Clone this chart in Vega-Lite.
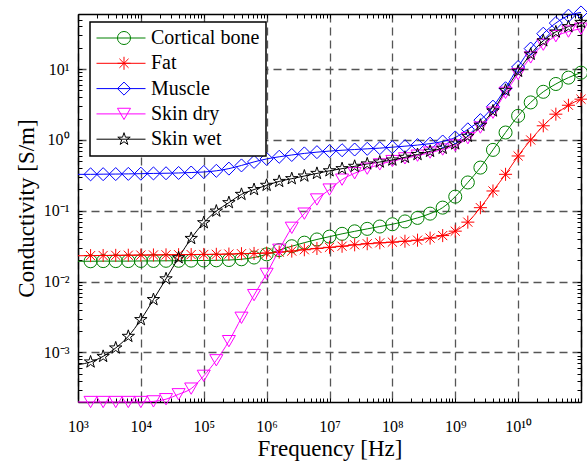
{
"$schema": "https://vega.github.io/schema/vega-lite/v6.json",
"width": 503, "height": 388,
"autosize": "none",
"padding": {"left": 78, "top": 14, "right": 6, "bottom": 59},
"background": "white",
"config": {"view": {"stroke": null}, "font": "Liberation Serif", "legend": {"labelFont": "Liberation Serif"}},
"data": {"values": [
{"t":"Cortical bone","f":1e3,"s":0.0194},{"t":"Cortical bone","f":1.585e3,"s":0.0194},{"t":"Cortical bone","f":2.512e3,"s":0.0195},{"t":"Cortical bone","f":3.981e3,"s":0.0195},{"t":"Cortical bone","f":6.31e3,"s":0.0195},
{"t":"Cortical bone","f":1e4,"s":0.0196},{"t":"Cortical bone","f":1.585e4,"s":0.0196},{"t":"Cortical bone","f":2.512e4,"s":0.0197},{"t":"Cortical bone","f":3.981e4,"s":0.0197},{"t":"Cortical bone","f":6.31e4,"s":0.0198},
{"t":"Cortical bone","f":1e5,"s":0.0199},{"t":"Cortical bone","f":1.585e5,"s":0.0200},{"t":"Cortical bone","f":2.512e5,"s":0.0202},{"t":"Cortical bone","f":3.981e5,"s":0.0207},{"t":"Cortical bone","f":6.31e5,"s":0.0219},
{"t":"Cortical bone","f":1e6,"s":0.0243},{"t":"Cortical bone","f":1.585e6,"s":0.0279},{"t":"Cortical bone","f":2.512e6,"s":0.0316},{"t":"Cortical bone","f":3.981e6,"s":0.0355},{"t":"Cortical bone","f":6.31e6,"s":0.0394},
{"t":"Cortical bone","f":1e7,"s":0.0432},{"t":"Cortical bone","f":1.585e7,"s":0.0473},{"t":"Cortical bone","f":2.512e7,"s":0.0513},{"t":"Cortical bone","f":3.981e7,"s":0.0556},{"t":"Cortical bone","f":6.31e7,"s":0.0600},
{"t":"Cortical bone","f":1e8,"s":0.0646},{"t":"Cortical bone","f":1.585e8,"s":0.0708},{"t":"Cortical bone","f":2.512e8,"s":0.0794},{"t":"Cortical bone","f":3.981e8,"s":0.0912},{"t":"Cortical bone","f":6.31e8,"s":0.1109},
{"t":"Cortical bone","f":1e9,"s":0.1585},{"t":"Cortical bone","f":1.585e9,"s":0.2512},{"t":"Cortical bone","f":2.512e9,"s":0.4074},{"t":"Cortical bone","f":3.981e9,"s":0.7244},{"t":"Cortical bone","f":6.31e9,"s":1.274},
{"t":"Cortical bone","f":1e10,"s":2.188},{"t":"Cortical bone","f":1.585e10,"s":3.388},{"t":"Cortical bone","f":2.512e10,"s":4.786},{"t":"Cortical bone","f":3.981e10,"s":6.166},{"t":"Cortical bone","f":6.31e10,"s":7.586},{"t":"Cortical bone","f":1e11,"s":8.913},
{"t":"Fat","f":1e3,"s":0.0232},{"t":"Fat","f":1.585e3,"s":0.0233},{"t":"Fat","f":2.512e3,"s":0.0234},{"t":"Fat","f":3.981e3,"s":0.0235},{"t":"Fat","f":6.31e3,"s":0.0236},
{"t":"Fat","f":1e4,"s":0.0237},{"t":"Fat","f":1.585e4,"s":0.0238},{"t":"Fat","f":2.512e4,"s":0.0239},{"t":"Fat","f":3.981e4,"s":0.0240},{"t":"Fat","f":6.31e4,"s":0.0241},
{"t":"Fat","f":1e5,"s":0.0242},{"t":"Fat","f":1.585e5,"s":0.0243},{"t":"Fat","f":2.512e5,"s":0.0245},{"t":"Fat","f":3.981e5,"s":0.0248},{"t":"Fat","f":6.31e5,"s":0.0250},
{"t":"Fat","f":1e6,"s":0.0253},{"t":"Fat","f":1.585e6,"s":0.0261},{"t":"Fat","f":2.512e6,"s":0.0270},{"t":"Fat","f":3.981e6,"s":0.0282},{"t":"Fat","f":6.31e6,"s":0.0294},
{"t":"Fat","f":1e7,"s":0.0305},{"t":"Fat","f":1.585e7,"s":0.0316},{"t":"Fat","f":2.512e7,"s":0.0331},{"t":"Fat","f":3.981e7,"s":0.0343},{"t":"Fat","f":6.31e7,"s":0.0353},
{"t":"Fat","f":1e8,"s":0.0361},{"t":"Fat","f":1.585e8,"s":0.0372},{"t":"Fat","f":2.512e8,"s":0.0385},{"t":"Fat","f":3.981e8,"s":0.0412},{"t":"Fat","f":6.31e8,"s":0.0447},
{"t":"Fat","f":1e9,"s":0.0516},{"t":"Fat","f":1.585e9,"s":0.0692},{"t":"Fat","f":2.512e9,"s":0.1107},{"t":"Fat","f":3.981e9,"s":0.1905},{"t":"Fat","f":6.31e9,"s":0.3273},
{"t":"Fat","f":1e10,"s":0.5943},{"t":"Fat","f":1.585e10,"s":1.0},{"t":"Fat","f":2.512e10,"s":1.585},{"t":"Fat","f":3.981e10,"s":2.312},{"t":"Fat","f":6.31e10,"s":3.09},{"t":"Fat","f":1e11,"s":3.767},
{"t":"Muscle","f":1e3,"s":0.327},{"t":"Muscle","f":1.585e3,"s":0.327},{"t":"Muscle","f":2.512e3,"s":0.329},{"t":"Muscle","f":3.981e3,"s":0.330},{"t":"Muscle","f":6.31e3,"s":0.332},
{"t":"Muscle","f":1e4,"s":0.334},{"t":"Muscle","f":1.585e4,"s":0.337},{"t":"Muscle","f":2.512e4,"s":0.339},{"t":"Muscle","f":3.981e4,"s":0.342},{"t":"Muscle","f":6.31e4,"s":0.347},
{"t":"Muscle","f":1e5,"s":0.353},{"t":"Muscle","f":1.585e5,"s":0.367},{"t":"Muscle","f":2.512e5,"s":0.394},{"t":"Muscle","f":3.981e5,"s":0.437},{"t":"Muscle","f":6.31e5,"s":0.490},
{"t":"Muscle","f":1e6,"s":0.540},{"t":"Muscle","f":1.585e6,"s":0.579},{"t":"Muscle","f":2.512e6,"s":0.614},{"t":"Muscle","f":3.981e6,"s":0.646},{"t":"Muscle","f":6.31e6,"s":0.673},
{"t":"Muscle","f":1e7,"s":0.697},{"t":"Muscle","f":1.585e7,"s":0.716},{"t":"Muscle","f":2.512e7,"s":0.733},{"t":"Muscle","f":3.981e7,"s":0.750},{"t":"Muscle","f":6.31e7,"s":0.767},
{"t":"Muscle","f":1e8,"s":0.791},{"t":"Muscle","f":1.585e8,"s":0.817},{"t":"Muscle","f":2.512e8,"s":0.847},{"t":"Muscle","f":3.981e8,"s":0.887},{"t":"Muscle","f":6.31e8,"s":0.951},
{"t":"Muscle","f":1e9,"s":1.084},{"t":"Muscle","f":1.585e9,"s":1.413},{"t":"Muscle","f":2.512e9,"s":1.905},{"t":"Muscle","f":3.981e9,"s":2.951},{"t":"Muscle","f":6.31e9,"s":5.370},
{"t":"Muscle","f":1e10,"s":10.72},{"t":"Muscle","f":1.585e10,"s":19.50},{"t":"Muscle","f":2.512e10,"s":31.62},{"t":"Muscle","f":3.981e10,"s":44.67},{"t":"Muscle","f":6.31e10,"s":56.89},{"t":"Muscle","f":1e11,"s":63.10},
{"t":"Skin dry","f":1e3,"s":0.0002},{"t":"Skin dry","f":1.585e3,"s":0.0002},{"t":"Skin dry","f":2.512e3,"s":0.0002},{"t":"Skin dry","f":3.981e3,"s":0.0002},{"t":"Skin dry","f":6.31e3,"s":0.0002},
{"t":"Skin dry","f":1e4,"s":0.0002},{"t":"Skin dry","f":1.585e4,"s":0.000204},{"t":"Skin dry","f":2.512e4,"s":0.000219},{"t":"Skin dry","f":3.981e4,"s":0.000257},{"t":"Skin dry","f":6.31e4,"s":0.000309},
{"t":"Skin dry","f":1e5,"s":0.000468},{"t":"Skin dry","f":1.585e5,"s":0.000776},{"t":"Skin dry","f":2.512e5,"s":0.001445},{"t":"Skin dry","f":3.981e5,"s":0.00309},{"t":"Skin dry","f":6.31e5,"s":0.006457},
{"t":"Skin dry","f":1e6,"s":0.01288},{"t":"Skin dry","f":1.585e6,"s":0.02818},{"t":"Skin dry","f":2.512e6,"s":0.05754},{"t":"Skin dry","f":3.981e6,"s":0.0912},{"t":"Skin dry","f":6.31e6,"s":0.1445},
{"t":"Skin dry","f":1e7,"s":0.1995},{"t":"Skin dry","f":1.585e7,"s":0.2754},{"t":"Skin dry","f":2.512e7,"s":0.3388},{"t":"Skin dry","f":3.981e7,"s":0.3936},{"t":"Skin dry","f":6.31e7,"s":0.4519},
{"t":"Skin dry","f":1e8,"s":0.5035},{"t":"Skin dry","f":1.585e8,"s":0.5495},{"t":"Skin dry","f":2.512e8,"s":0.5998},{"t":"Skin dry","f":3.981e8,"s":0.6637},{"t":"Skin dry","f":6.31e8,"s":0.7328},
{"t":"Skin dry","f":1e9,"s":0.8356},{"t":"Skin dry","f":1.585e9,"s":1.059},{"t":"Skin dry","f":2.512e9,"s":1.496},{"t":"Skin dry","f":3.981e9,"s":2.427},{"t":"Skin dry","f":6.31e9,"s":4.624},
{"t":"Skin dry","f":1e10,"s":8.511},{"t":"Skin dry","f":1.585e10,"s":14.62},{"t":"Skin dry","f":2.512e10,"s":22.13},{"t":"Skin dry","f":3.981e10,"s":29.17},{"t":"Skin dry","f":6.31e10,"s":33.88},{"t":"Skin dry","f":1e11,"s":37.15},
{"t":"Skin wet","f":1e3,"s":0.000671},{"t":"Skin wet","f":1.585e3,"s":0.000735},{"t":"Skin wet","f":2.512e3,"s":0.000881},{"t":"Skin wet","f":3.981e3,"s":0.001159},{"t":"Skin wet","f":6.31e3,"s":0.00169},
{"t":"Skin wet","f":1e4,"s":0.002911},{"t":"Skin wet","f":1.585e4,"s":0.005585},{"t":"Skin wet","f":2.512e4,"s":0.01096},{"t":"Skin wet","f":3.981e4,"s":0.02173},{"t":"Skin wet","f":6.31e4,"s":0.04074},
{"t":"Skin wet","f":1e5,"s":0.06792},{"t":"Skin wet","f":1.585e5,"s":0.09908},{"t":"Skin wet","f":2.512e5,"s":0.1303},{"t":"Skin wet","f":3.981e5,"s":0.1706},{"t":"Skin wet","f":6.31e5,"s":0.1995},
{"t":"Skin wet","f":1e6,"s":0.2291},{"t":"Skin wet","f":1.585e6,"s":0.2600},{"t":"Skin wet","f":2.512e6,"s":0.2844},{"t":"Skin wet","f":3.981e6,"s":0.3097},{"t":"Skin wet","f":6.31e6,"s":0.3373},
{"t":"Skin wet","f":1e7,"s":0.3673},{"t":"Skin wet","f":1.585e7,"s":0.3936},{"t":"Skin wet","f":2.512e7,"s":0.4246},{"t":"Skin wet","f":3.981e7,"s":0.4592},{"t":"Skin wet","f":6.31e7,"s":0.4887},
{"t":"Skin wet","f":1e8,"s":0.5212},{"t":"Skin wet","f":1.585e8,"s":0.5689},{"t":"Skin wet","f":2.512e8,"s":0.6237},{"t":"Skin wet","f":3.981e8,"s":0.6918},{"t":"Skin wet","f":6.31e8,"s":0.7638},
{"t":"Skin wet","f":1e9,"s":0.881},{"t":"Skin wet","f":1.585e9,"s":1.127},{"t":"Skin wet","f":2.512e9,"s":1.614},{"t":"Skin wet","f":3.981e9,"s":2.57},{"t":"Skin wet","f":6.31e9,"s":5.012},
{"t":"Skin wet","f":1e10,"s":9.333},{"t":"Skin wet","f":1.585e10,"s":16.22},{"t":"Skin wet","f":2.512e10,"s":25.12},{"t":"Skin wet","f":3.981e10,"s":33.5},{"t":"Skin wet","f":6.31e10,"s":39.81},{"t":"Skin wet","f":1e11,"s":45.71}
]},
"layer": [
{
"mark": {"type": "line", "strokeWidth": 1, "interpolate": "monotone"},
"encoding": {
"x": {"field": "f", "type": "quantitative",
 "scale": {"type": "log", "domain": [1000, 1e11], "nice": false},
 "axis": {"orient": "bottom", "tickCount": 40, "zindex": 0,
  "grid": true, "gridColor": "#555555", "gridDash": [8, 5], "gridWidth": 1.3,
  "gridOpacity": {"condition": {"test": "abs(log(datum.value)/LN10 - round(log(datum.value)/LN10)) < 0.001", "value": 1}, "value": 0},
  "ticks": true, "tickColor": "black", "tickWidth": 1, "tickSize": -4,
  "domain": true, "domainColor": "black", "domainWidth": 1.5,
  "labelExpr": "abs(log(datum.value)/LN10 - round(log(datum.value)/LN10)) < 0.001 && datum.value < 5e10 ? '10' + (datum.value < 0.5 ? '⁻' : '') + (abs(round(log(datum.value)/LN10)) == 10 ? '¹⁰' : substring('⁰¹²³⁴⁵⁶⁷⁸⁹', abs(round(log(datum.value)/LN10)), abs(round(log(datum.value)/LN10)) + 1)) : ''",
  "labelFont": "Liberation Serif", "labelFontSize": 16, "labelColor": "black", "labelPadding": 33, "labelBaseline": "alphabetic",
  "labelFlush": false, "labelOverlap": false, "labelBound": false,
  "title": "Frequency [Hz]", "titleFont": "Liberation Serif", "titleFontSize": 23, "titleFontWeight": "normal", "titleColor": "black",
  "titleX": 251.5, "titleY": 53, "titleBaseline": "alphabetic", "titleAlign": "center"}},
"y": {"field": "s", "type": "quantitative",
 "scale": {"type": "log", "domain": [0.0002, 60], "nice": false},
 "axis": {"orient": "left", "tickCount": 40, "zindex": 0,
  "grid": true, "gridColor": "#555555", "gridDash": [8, 5], "gridWidth": 1.3,
  "gridOpacity": {"condition": {"test": "abs(log(datum.value)/LN10 - round(log(datum.value)/LN10)) < 0.001", "value": 1}, "value": 0},
  "ticks": true, "tickColor": "black", "tickWidth": 1, "tickSize": -4,
  "domain": true, "domainColor": "black", "domainWidth": 1.5,
  "labelExpr": "abs(log(datum.value)/LN10 - round(log(datum.value)/LN10)) < 0.001 && datum.value < 5e10 ? '10' + (datum.value < 0.5 ? '⁻' : '') + (abs(round(log(datum.value)/LN10)) == 10 ? '¹⁰' : substring('⁰¹²³⁴⁵⁶⁷⁸⁹', abs(round(log(datum.value)/LN10)), abs(round(log(datum.value)/LN10)) + 1)) : ''",
  "labelFont": "Liberation Serif", "labelFontSize": 16, "labelColor": "black", "labelPadding": 13, "labelBaseline": "middle",
  "labelFlush": false, "labelOverlap": false, "labelBound": false,
  "title": "Conductivity [S/m]", "titleFont": "Liberation Serif", "titleFontSize": 23, "titleFontWeight": "normal", "titleColor": "black",
  "titleX": -44.5, "titleY": 194, "titleAngle": -90, "titleBaseline": "alphabetic", "titleAlign": "center"}},
"stroke": {"field": "t", "type": "nominal",
 "scale": {"domain": ["Cortical bone", "Fat", "Muscle", "Skin dry", "Skin wet"], "range": ["#008000", "#ff0000", "#0000ff", "#ff00ff", "#000000"]},
 "legend": {"orient": "none", "legendX": 12, "legendY": 8, "title": null, "padding": 6, "rowPadding": 5.3, "clipHeight": 20,
  "symbolType": "stroke", "symbolSize": 2401, "symbolStrokeWidth": 1, "symbolOffset": 0,
  "labelFont": "Liberation Serif", "labelFontSize": 20, "labelColor": "black", "labelOffset": 5, "labelLimit": 300,
  "fillColor": "white", "strokeColor": "black", "zindex": 1,
  "encode": {"legend": {"update": {"strokeWidth": {"value": 1.5}}}, "labels": {"update": {"font": {"value": "Liberation Serif"}}}}}}
}
},
{
"transform": [{"filter": "datum.f > 1100"}],
"mark": {"type": "point", "filled": false, "size": 170, "strokeWidth": 1, "opacity": 1},
"encoding": {
"x": {"field": "f", "type": "quantitative",
 "scale": {"type": "log", "domain": [1000, 1e11], "nice": false},
 "axis": {"orient": "top", "tickCount": 40, "zindex": 0, "grid": false, "labels": false, "title": null,
  "ticks": true, "tickColor": "black", "tickWidth": 1, "tickSize": -4,
  "domain": true, "domainColor": "black", "domainWidth": 1.5}},
"y": {"field": "s", "type": "quantitative",
 "scale": {"type": "log", "domain": [0.0002, 60], "nice": false},
 "axis": {"orient": "right", "tickCount": 40, "zindex": 0, "grid": false, "labels": false, "title": null,
  "ticks": true, "tickColor": "black", "tickWidth": 1, "tickSize": -4,
  "domain": true, "domainColor": "black", "domainWidth": 1.5}},
"color": {"field": "t", "type": "nominal",
 "scale": {"range": ["#008000", "#ff0000", "#0000ff", "#ff00ff", "#000000"]},
 "legend": {"orient": "none", "legendX": 12, "legendY": 8, "title": null, "padding": 6, "rowPadding": 5.3, "clipHeight": 20,
  "symbolSize": 170, "symbolStrokeWidth": 1, "symbolOffset": 18,
  "labelExpr": "''", "labelFontSize": 20,
  "zindex": 2}},
"shape": {"field": "t", "type": "nominal",
 "scale": {"range": ["circle", "M-1,0L1,0M0,-1L0,1M-0.7,-0.7L0.7,0.7M-0.7,0.7L0.7,-0.7", "diamond", "triangle-down", "M0,-1L0.2245,-0.309L0.951,-0.309L0.363,0.118L0.588,0.809L0,0.382L-0.588,0.809L-0.363,0.118L-0.951,-0.309L-0.2245,-0.309Z"]},
 "legend": {"orient": "none", "legendX": 12, "legendY": 8, "title": null, "padding": 6, "rowPadding": 5.3, "clipHeight": 20,
  "symbolSize": 170, "symbolStrokeWidth": 1, "symbolOffset": 18,
  "labelExpr": "''", "labelFontSize": 20,
  "zindex": 2}}
}
}
],
"resolve": {"axis": {"x": "independent", "y": "independent"}}
}
